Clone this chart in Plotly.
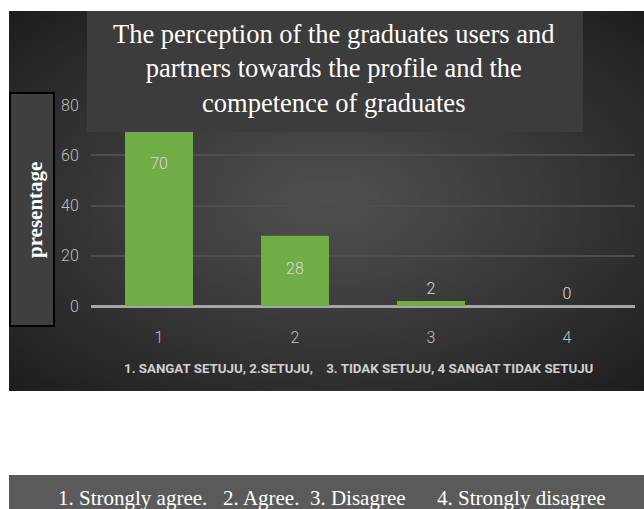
import base64, struct, zlib
import plotly.graph_objects as go

# ---- data ----
categories = ["1", "2", "3", "4"]
values = [70, 28, 2, 0]
label_templates = ["\u00a0<br>%{y}", "\u00a0<br>%{y}", "%{y}", "%{y}"]
label_positions = ["inside", "inside", "outside", "outside"]
y_ticks = [0, 20, 40, 60, 80]

title_text = ("The perception of the graduates users and<br>"
              "partners towards the profile and the<br>"
              "competence of graduates")
y_title_text = "<b>presentage</b>"
x_title_text = ("<b>1. SANGAT SETUJU, 2.SETUJU,\u00a0\u00a0\u00a0\u00a0"
                "3. TIDAK SETUJU, 4 SANGAT TIDAK SETUJU</b>")
legend_text = ("1. Strongly agree.\u00a0\u00a0\u00a02. Agree.\u00a0\u00a03. Disagree"
               "\u00a0\u00a0\u00a0\u00a0\u00a0\u00a04. Strongly disagree")

W, H = 644, 509
L, R, T, B = 91, 635, 105, 306   # plot area in pixels


def px(x):
    return (x - L) / (R - L)


def py(y):
    return (B - y) / (B - T)


# ---- radial gradient background as PNG ----
def make_png(w, h):
    rows = []
    for j in range(h):
        row = bytearray()
        for i in range(w):
            dx = (i / (w - 1) - 0.5) / 0.5
            dy = (j / (h - 1) - 0.5) / 0.5
            d = min(1.0, ((dx * dx + dy * dy) / 2) ** 0.5)
            v = int(80 - (80 - 30) * d ** 1.1)
            row += bytes((v, v, v))
        rows.append(b"\x00" + bytes(row))
    raw = b"".join(rows)

    def chunk(t, d):
        c = struct.pack(">I", len(d)) + t + d
        return c + struct.pack(">I", zlib.crc32(t + d) & 0xffffffff)

    png = (b"\x89PNG\r\n\x1a\n"
           + chunk(b"IHDR", struct.pack(">IIBBBBB", w, h, 8, 2, 0, 0, 0))
           + chunk(b"IDAT", zlib.compress(raw))
           + chunk(b"IEND", b""))
    return "data:image/png;base64," + base64.b64encode(png).decode()


bg_src = make_png(96, 64)

sans = "Roboto, Liberation Sans, sans-serif"
serif = "Liberation Serif, Times New Roman, serif"

fig = go.Figure()
fig.add_trace(go.Bar(
    x=categories, y=values,
    marker=dict(color="#70ad47", line=dict(width=0)),
    width=0.5,
    texttemplate=label_templates,
    textposition=label_positions,
    insidetextanchor="end",
    textfont=dict(family=sans, size=16, color="#dadada", weight=300),
    cliponaxis=False,
    hoverinfo="skip",
))

fig.update_layout(
    width=W, height=H, autosize=False,
    margin=dict(l=L, r=W - R, t=T, b=H - B, pad=0),
    paper_bgcolor="white", plot_bgcolor="rgba(0,0,0,0)",
    showlegend=False,
    xaxis=dict(type="category", range=[-0.5, 3.5], showgrid=False, showline=False,
               ticks="outside", ticklen=17, tickcolor="rgba(0,0,0,0)",
               tickfont=dict(family=sans, size=16, color="#bfbfbf", weight=300)),
    yaxis=dict(range=[0, 80], tickvals=y_ticks, showgrid=True, gridcolor="#4e4e4e",
               gridwidth=1.5, zeroline=True, zerolinecolor="#a6a6a6", zerolinewidth=2.5,
               showline=False, ticks="outside", ticklen=8, tickcolor="rgba(0,0,0,0)",
               tickfont=dict(family=sans, size=16, color="#bfbfbf", weight=300)),
    images=[dict(source=bg_src, xref="paper", yref="paper",
                 x=px(9), y=py(11), sizex=px(650) - px(9), sizey=py(11) - py(391),
                 xanchor="left", yanchor="top", sizing="stretch", layer="below")],
    shapes=[
        dict(type="rect", xref="paper", yref="paper", x0=px(87), x1=px(583),
             y0=py(11), y1=py(132), fillcolor="#3c3c3c", line=dict(width=0), layer="above"),
        dict(type="rect", xref="paper", yref="paper", x0=px(10), x1=px(54),
             y0=py(93), y1=py(326), fillcolor="#3f3f3f", line=dict(color="black", width=2),
             layer="above"),
        dict(type="rect", xref="paper", yref="paper", x0=px(9), x1=px(650),
             y0=py(475), y1=py(515), fillcolor="#5a5a5a", line=dict(width=0), layer="above"),
    ],
    annotations=[
        dict(text=title_text, xref="paper", yref="paper", x=px(334), y=py(69),
             xanchor="center", yanchor="middle", showarrow=False,
             font=dict(family=serif, size=26.5, color="white")),
        dict(text=y_title_text, xref="paper", yref="paper", x=px(35), y=py(210),
             xanchor="center", yanchor="middle", showarrow=False, textangle=-90,
             font=dict(family=serif, size=21, color="white")),
        dict(text=x_title_text, xref="paper", yref="paper", x=px(358), y=py(368),
             xanchor="center", yanchor="middle", showarrow=False,
             font=dict(family=sans, size=13.3, color="#d0d0d0")),
        dict(text=legend_text, xref="paper", yref="paper", x=px(332), y=py(498),
             xanchor="center", yanchor="middle", showarrow=False,
             font=dict(family=serif, size=21, color="white")),
    ],
)

fig.write_html("out.html", config={"displayModeBar": False},
               post_script="document.body.style.margin='0px';document.body.style.padding='0px';")
